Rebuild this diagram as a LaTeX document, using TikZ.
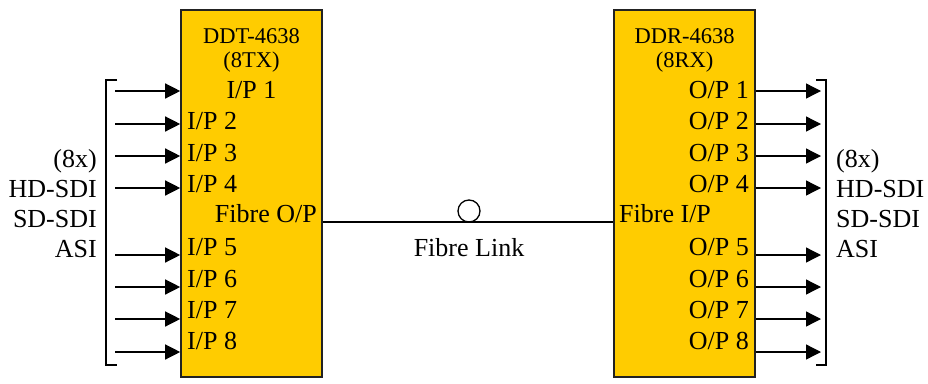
\documentclass[tikz,border=0pt]{standalone}
\usepackage{fontspec}
\setmainfont{Liberation Serif}
\usetikzlibrary{arrows.meta}
\definecolor{boxfill}{HTML}{FFCC00}
\definecolor{boxline}{HTML}{222222}
\begin{document}
\begin{tikzpicture}[x=1pt,y=-1pt,
  unitbox/.style={draw=boxline,line width=1.6pt,fill=boxfill,minimum width=141pt,minimum height=367pt,inner sep=0pt},
  lab/.style={inner sep=0pt,font=\fontsize{26}{31}\selectfont},
  title/.style={inner sep=0pt,font=\fontsize{22.5}{27}\selectfont},
  sig/.style={line width=1.3pt,-{Triangle[length=15pt,width=15pt]}},
  brk/.style={line width=1.3pt}]
\useasboundingbox (0,0) rectangle (928,383);
\node[unitbox] (tx) at (251.5,193.5) {};
\node[unitbox] (rx) at (684.5,193.5) {};
% titles
\node[title,anchor=base] (txt1) at (251.5,43) {DDT-4638};
\node[title,anchor=base] (txt2) at (251.5,67) {(8TX)};
\node[title,anchor=base] (rxt1) at (684.5,43) {DDR-4638};
\node[title,anchor=base] (rxt2) at (684.5,67) {(8RX)};
% input labels
\node[lab,anchor=base] (ip1) at (251.5,98) {I/P 1};
\node[lab,anchor=base west] (ip2) at (187,129) {I/P 2};
\node[lab,anchor=base west] (ip3) at (187,161) {I/P 3};
\node[lab,anchor=base west] (ip4) at (187,192) {I/P 4};
\node[lab,anchor=base east] (fop) at (317,222) {Fibre O/P};
\node[lab,anchor=base west] (ip5) at (187,255) {I/P 5};
\node[lab,anchor=base west] (ip6) at (187,287) {I/P 6};
\node[lab,anchor=base west] (ip7) at (187,318) {I/P 7};
\node[lab,anchor=base west] (ip8) at (187,349) {I/P 8};
% output labels
\node[lab,anchor=base east] (op1) at (749,98) {O/P 1};
\node[lab,anchor=base east] (op2) at (749,129) {O/P 2};
\node[lab,anchor=base east] (op3) at (749,161) {O/P 3};
\node[lab,anchor=base east] (op4) at (749,192) {O/P 4};
\node[lab,anchor=base west] (fip) at (619,222) {Fibre I/P};
\node[lab,anchor=base east] (op5) at (749,255) {O/P 5};
\node[lab,anchor=base east] (op6) at (749,287) {O/P 6};
\node[lab,anchor=base east] (op7) at (749,318) {O/P 7};
\node[lab,anchor=base east] (op8) at (749,349) {O/P 8};
% side labels
\node[lab,anchor=base east] (l1) at (97,167) {(8x)};
\node[lab,anchor=base east] (l2) at (97,197) {HD-SDI};
\node[lab,anchor=base east] (l3) at (97,227) {SD-SDI};
\node[lab,anchor=base east] (l4) at (97,257) {ASI};
\node[lab,anchor=base west] (r1) at (836,167) {(8x)};
\node[lab,anchor=base west] (r2) at (836,197) {HD-SDI};
\node[lab,anchor=base west] (r3) at (836,227) {SD-SDI};
\node[lab,anchor=base west] (r4) at (836,257) {ASI};
% brackets
\draw[brk] (117,80) -- (106,80) -- (106,365) -- (117,365);
\draw[brk] (816,80) -- (826,80) -- (826,365) -- (816,365);
% input arrows
\foreach \i/\y in {1/91,2/124,3/156,4/188,5/255,6/287,7/319,8/352}{
  \coordinate (in\i) at (115,\y);
  \draw[sig] (in\i) -- (tx.west |- in\i);
  \coordinate (out\i) at (821,\y);
  \draw[sig] (rx.east |- out\i) -- (out\i);
}
% fibre link
\coordinate (fl) at (0,222);
\draw[line width=1.3pt] (tx.east |- fl) -- (rx.west |- fl);
\node[draw,circle,line width=1.3pt,minimum size=22pt,inner sep=0pt] (ring) at (469,211) {};
\node[lab,anchor=base] (fltxt) at (469,256) {Fibre Link};
\end{tikzpicture}
\end{document}
